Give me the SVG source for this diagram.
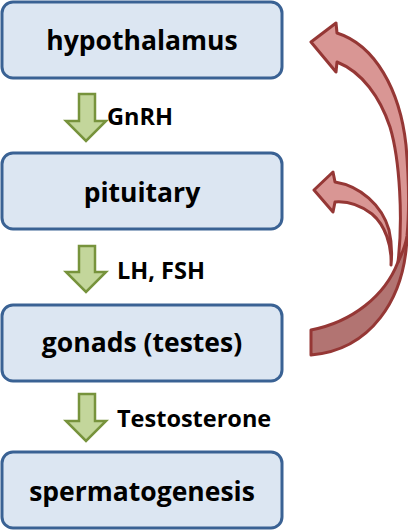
<svg xmlns="http://www.w3.org/2000/svg" width="408" height="531" viewBox="0 0 408 531">
<style>
.box{fill:#DCE6F2;stroke:#3A6294;stroke-width:3}
.t{font-family:"Open Sans","Liberation Sans",sans-serif;font-weight:bold;font-size:26.5px;fill:#000;text-anchor:middle}
.l{font-family:"Open Sans","Liberation Sans",sans-serif;font-weight:bold;font-size:23.5px;fill:#000}
.g{fill:#C3D69B;stroke:#77933C;stroke-width:2.5;stroke-linejoin:miter}
.rl{fill:#D99694;stroke:#953735;stroke-width:3;stroke-linejoin:round}
.rd{fill:#B27472;stroke:#953735;stroke-width:3;stroke-linejoin:round}
</style>
<g id="hypothalamus"><rect class="box" x="2" y="2" width="280" height="76" rx="11"/><text class="t" x="142" y="50">hypothalamus</text></g>
<g id="pituitary"><rect class="box" x="2" y="153" width="280" height="76" rx="11"/><text class="t" x="142" y="202">pituitary</text></g>
<g id="gonads"><rect class="box" x="2" y="305" width="280" height="76" rx="11"/><text class="t" x="142" y="352">gonads (testes)</text></g>
<g id="spermatogenesis"><rect class="box" x="2" y="452" width="280" height="76" rx="11"/><text class="t" x="142" y="501">spermatogenesis</text></g>
<g id="connectors">
<path class="g" d="M79,94 H95 V121 H106 L86,141 L66,121 H79 Z"/>
<text class="l" x="107" y="125">GnRH</text>
<path class="g" d="M79,246 H95 V272 H106 L86,292 L66,272 H79 Z"/>
<text class="l" x="117" y="279">LH, FSH</text>
<path class="g" d="M79,394 H95 V421 H106 L86,441 L66,421 H79 Z"/>
<text class="l" x="117" y="427">Testosterone</text>
<path class="rl" d="M391,265 C392,245 385,225 372,214 C360,205 348,201 335,202 L333,212 L314,190 L333,172 L335,182 C360,186 382,205 389,230 C392,243 392,255 391,265 Z"/>
<path class="rd" d="M311,330 C352,322 385,296 398,262 L407,236 C405,300 370,350 311,355 Z"/>
<path class="rl" d="M398,262 C403,220 400,160 390,127 C380,97 362,72 337,62 L336,72 L311,42 L336,23 L337,33 C375,45 400,90 406,145 C409,180 409,215 407,236 C405,248 401,256 398,262 Z"/>
</g>
</svg>
